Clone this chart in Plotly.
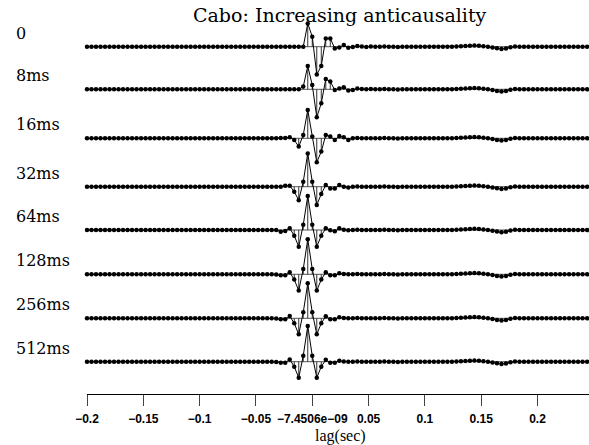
import plotly.graph_objects as go

# ---------------- data ----------------
dt = 0.004
t0 = -0.2
n_samples = 112
lag = [round(t0 + dt * k, 4) for k in range(n_samples)]

labels = ["0", "8ms", "16ms", "32ms", "64ms", "128ms", "256ms", "512ms"]

Z16 = [0] * 16
hump = [0, 0, 0.3, 0.5, 0.7, 1, 1.2, 1, 0.5, 0, -0.8, -1.6, -2.2, -1.8, -0.5, 0.3]
small = [0, 0, 0.3, 0, 0, -0.3, 0, 0, 0, 0, 0, 0, 0, 0, 0, 0]

tr0 = (Z16 + Z16 + Z16 +
       [0, 23.3, 10, -27.7, -19.3, 8.3, 8.3, -1.7, -0.7, 1.7, -1, -0.3, 0.7, 0.3, -0.3, 0.3] +
       small + hump + Z16)
tr1 = (Z16 + Z16 + Z16 +
       [2.7, 23.3, 4.3, -28, -14, 10.3, 7.7, -0.7, 0.7, 2, -1.3, -0.7, 0.7, 0.3, 0, 0.3] +
       small + hump + Z16)
tr2 = (Z16 + Z16 +
       [0, 0, 0, 0, 0, 0, 0, 0, 0, 0, 0, 0.3, 0.3, 1, -1.7, -8.3] +
       [3.3, 28.3, 1.7, -24, -13.3, 3.3, 1.7, -1.7, 2.3, 1, -1.7, 0, 0.3, 0, 0, 0] +
       small + hump + Z16)
tr3 = (Z16 + Z16 +
       [0, 0, 0, 0, 0, 0, 0, 0, 0, 0, 0, 0, 1, 1, -5, -13.5] +
       [5, 33.3, 5, -18.3, -7.3, 1.7, -1.7, -1.7, 1.7, 0, -0.7, 0, 0.3, 0, 0, 0] +
       small + hump + Z16)
tr4 = (Z16 + Z16 +
       [0, 0, 0, 0, 0, 0, 0, 0, 0, 0, 0, -1.7, -1, 1.7, -5.7, -16.7] +
       [5.3, 34, 5.3, -16.7, -5.7, 1.7, -0.3, -1.3, 1.7, 0.3, -0.3, 0, 0.3, 0, 0, 0] +
       small + hump + Z16)
tr5 = (Z16 + Z16 +
       [0, 0, 0, 0, 0, 0, 0, 0, 0, 0, -0.3, -1, -1, 2, -5.3, -16.3] +
       [5.3, 35, 5.3, -16.3, -5.3, 2, -1, -1, 1, 0.3, 0, 0, 0.3, 0, 0, 0] +
       small + hump + Z16)
tr6 = (Z16 + Z16 +
       [0, 0, 0, 0, 0, 0, 0, 0, 0, 0, -0.3, -1, -1, 2.3, -5, -16] +
       [6, 35, 6, -16, -5, 2, -1, -1, 1, 0.3, 0, 0, 0.3, 0, 0, 0] +
       small + hump + Z16)
tr7 = (Z16 + Z16 +
       [0, 0, 0, 0, 0, 0, 0, 0, 0, 0, -0.3, -1, -1, 2.3, -5, -16] +
       [6, 35.7, 6, -16, -5, 2, -1, -1, 1, 0.3, 0, 0, 0.3, 0, 0, 0] +
       small + hump + Z16)
traces = [tr0, tr1, tr2, tr3, tr4, tr5, tr6, tr7]

tick_vals = [-0.2, -0.15, -0.1, -0.05, 0.0, 0.05, 0.1, 0.15, 0.2]
tick_text = ["\u22120.2", "\u22120.15", "\u22120.1", "\u22120.05", "\u22127.4506e\u221209",
             "0.05", "0.1", "0.15", "0.2"]

# ---------------- layout constants ----------------
baselines = [46.7, 89.3, 138.3, 186.7, 230.0, 274.3, 318.3, 361.7]  # px from top
W, H = 589, 445
ML, MB = 87, 51
PH = H - MB
PW = W - ML
px_per_unit = 1126.3
x_max = -0.2 + PW / px_per_unit

fig = go.Figure()
for vals, base in zip(traces, baselines):
    off = -base
    # baseline
    fig.add_trace(go.Scatter(x=[lag[0], lag[-1]], y=[off, off], mode="lines",
                             line=dict(color="#555", width=1), hoverinfo="skip",
                             showlegend=False, cliponaxis=False))
    # stems
    sx, sy = [], []
    for tt, v in zip(lag, vals):
        if v != 0:
            sx += [tt, tt, None]
            sy += [off, off + v, None]
    fig.add_trace(go.Scatter(x=sx, y=sy, mode="lines",
                             line=dict(color="#333", width=1), hoverinfo="skip",
                             showlegend=False, cliponaxis=False))
    # curve with dots
    fig.add_trace(go.Scatter(x=lag, y=[off + v for v in vals], mode="lines+markers",
                             line=dict(color="black", width=1),
                             marker=dict(color="black", size=4.5),
                             showlegend=False, cliponaxis=False))

annotations = []
for lab, base in zip(labels, baselines):
    annotations.append(dict(text=lab, x=(14 - ML) / PW, xref="paper", xanchor="left",
                            y=-(base - 13.5), yref="y", yanchor="middle",
                            showarrow=False,
                            font=dict(family="DejaVu Serif", size=16, color="black")))
annotations.append(dict(text="Cabo: Increasing anticausality", x=(340 - ML) / PW,
                        xref="paper", xanchor="center", y=-15, yref="y",
                        yanchor="middle", showarrow=False,
                        font=dict(family="DejaVu Serif", size=19, color="black")))
annotations.append(dict(text="lag(sec)", x=(340 - ML) / PW, xref="paper",
                        xanchor="center", y=(PH - 436) / PH, yref="paper",
                        yanchor="middle", showarrow=False,
                        font=dict(family="Liberation Serif", size=16, color="black")))

fig.update_layout(
    width=W, height=H,
    margin=dict(l=ML, r=0, t=0, b=MB, pad=0),
    paper_bgcolor="white", plot_bgcolor="white",
    xaxis=dict(range=[-0.2, x_max], showgrid=False, zeroline=False,
               showline=True, linecolor="black", linewidth=1,
               ticks="outside", ticklen=11, tickcolor="#444", tickwidth=1,
               ticklabelstandoff=3,
               tickvals=tick_vals, ticktext=tick_text,
               tickfont=dict(family="Liberation Sans", size=12, color="black",
                             weight="bold")),
    yaxis=dict(range=[-PH, 0], visible=False, showgrid=False, zeroline=False),
    annotations=annotations,
)

fig.write_html("out.html")
